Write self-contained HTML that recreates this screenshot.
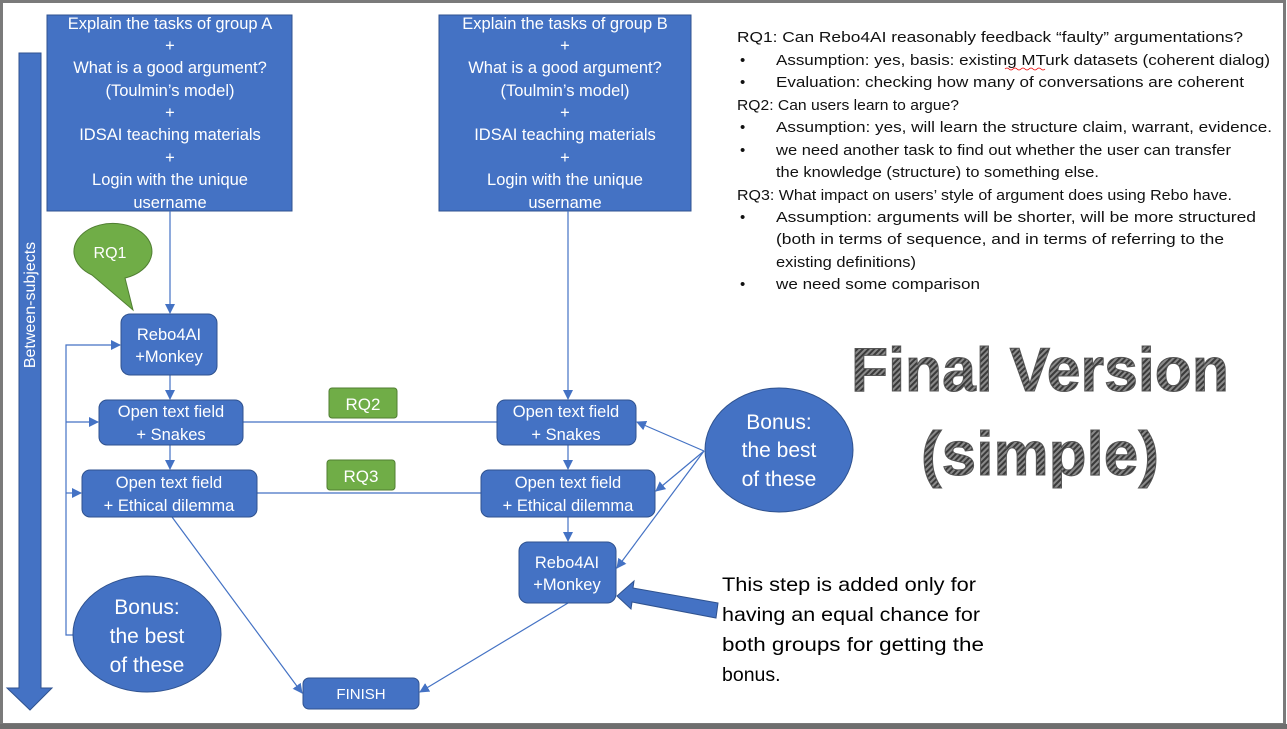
<!DOCTYPE html>
<html><head><meta charset="utf-8"><style>
html,body{margin:0;padding:0;background:#fff;}
svg{display:block;}
text{font-family:"Liberation Sans",sans-serif;}
</style></head><body>
<svg width="1287" height="729" viewBox="0 0 1287 729" xmlns="http://www.w3.org/2000/svg">
<defs>
<marker id="a" markerWidth="10" markerHeight="10" refX="9" refY="5" orient="auto" markerUnits="userSpaceOnUse"><path d="M0,0 L10,5 L0,10 z" fill="#4472c4"/></marker>
<pattern id="hatch" width="4" height="4" patternUnits="userSpaceOnUse" patternTransform="rotate(45)"><rect width="4" height="4" fill="#8a8a8a"/><rect width="2" height="4" fill="#3a3a3a"/></pattern>
</defs>
<rect x="0" y="0" width="1287" height="729" fill="#fff"/>
<rect x="1.5" y="1.5" width="1283" height="723" fill="none" stroke="#7a7a7a" stroke-width="3"/>
<rect x="0" y="724" width="1287" height="5" fill="#6e6e6e"/>

<path d="M19,53 H41 V688 H52 L30,710 L7,688 H19 Z" fill="#4472c4" stroke="#2f528f" stroke-width="1"/>
<text x="0" y="0" transform="translate(35,305) rotate(-90)" text-anchor="middle" fill="#fff" font-size="16">Between-subjects</text>

<g fill="#fff" font-size="16.5" text-anchor="middle">
<rect x="47" y="15" width="245" height="196" fill="#4472c4" stroke="#2f528f"/>
<text x="170" y="29">Explain the tasks of group A</text>
<text x="170" y="51">+</text>
<text x="170" y="73">What is a good argument?</text>
<text x="170" y="96">(Toulmin’s model)</text>
<text x="170" y="118">+</text>
<text x="170" y="140">IDSAI teaching materials</text>
<text x="170" y="163">+</text>
<text x="170" y="185">Login with the unique</text>
<text x="170" y="208">username</text>

<rect x="439" y="15" width="252" height="196" fill="#4472c4" stroke="#2f528f"/>
<text x="565" y="29">Explain the tasks of group B</text>
<text x="565" y="51">+</text>
<text x="565" y="73">What is a good argument?</text>
<text x="565" y="96">(Toulmin’s model)</text>
<text x="565" y="118">+</text>
<text x="565" y="140">IDSAI teaching materials</text>
<text x="565" y="163">+</text>
<text x="565" y="185">Login with the unique</text>
<text x="565" y="208">username</text>
</g>

<g stroke="#4472c4" stroke-width="1.2" fill="none">
<line x1="170" y1="211" x2="170" y2="313" marker-end="url(#a)"/>
<line x1="568" y1="211" x2="568" y2="399" marker-end="url(#a)"/>
<line x1="170" y1="375" x2="170" y2="399" marker-end="url(#a)"/>
<line x1="170" y1="445" x2="170" y2="469" marker-end="url(#a)"/>
<line x1="568" y1="445" x2="568" y2="469" marker-end="url(#a)"/>
<line x1="568" y1="517" x2="568" y2="541" marker-end="url(#a)"/>
<line x1="243" y1="422" x2="497" y2="422"/>
<line x1="257" y1="493" x2="481" y2="493"/>
<polyline points="73,635 66,635 66,345 120,345" marker-end="url(#a)"/>
<line x1="66" y1="422" x2="98" y2="422" marker-end="url(#a)"/>
<line x1="66" y1="493" x2="81" y2="493" marker-end="url(#a)"/>
<line x1="704" y1="451" x2="637" y2="422" marker-end="url(#a)"/>
<line x1="704" y1="451" x2="656" y2="491" marker-end="url(#a)"/>
<line x1="704" y1="451" x2="617" y2="568" marker-end="url(#a)"/>
<line x1="172" y1="517" x2="302" y2="693" marker-end="url(#a)"/>
<line x1="568" y1="603" x2="420" y2="692" marker-end="url(#a)"/>
</g>

<path d="M92,275 A39,28 0 1 1 125,278 L133,310 Z" fill="#70ad47" stroke="#507e32"/>
<text x="110" y="258" fill="#fff" font-size="16" text-anchor="middle">RQ1</text>

<g fill="#4472c4" stroke="#2f528f">
<rect x="121" y="314" width="96" height="61" rx="9"/>
<rect x="99" y="400" width="144" height="45" rx="8"/>
<rect x="82" y="470" width="175" height="47" rx="8"/>
<rect x="497" y="400" width="139" height="45" rx="8"/>
<rect x="481" y="470" width="174" height="47" rx="8"/>
<rect x="519" y="542" width="97" height="61" rx="9"/>
<rect x="303" y="678" width="116" height="31" rx="6"/>
<ellipse cx="147" cy="634" rx="74" ry="58"/>
<ellipse cx="779" cy="450" rx="74" ry="62"/>
<path d="M718,603 L633,588 L634,581 L617,596 L631,609 L632,602 L716,618 Z"/>
</g>
<rect x="329" y="388" width="68" height="30" rx="3" fill="#70ad47" stroke="#507e32"/>
<rect x="327" y="460" width="68" height="30" rx="3" fill="#70ad47" stroke="#507e32"/>
<g fill="#fff" font-size="16.5" text-anchor="middle">
<text x="363" y="410" font-size="17">RQ2</text>
<text x="361" y="482" font-size="17">RQ3</text>
<text x="169" y="340">Rebo4AI</text>
<text x="169" y="362">+Monkey</text>
<text x="171" y="417">Open text field</text>
<text x="171" y="440">+ Snakes</text>
<text x="169" y="488">Open text field</text>
<text x="169" y="511">+ Ethical dilemma</text>
<text x="566" y="417">Open text field</text>
<text x="566" y="440">+ Snakes</text>
<text x="568" y="488">Open text field</text>
<text x="568" y="511">+ Ethical dilemma</text>
<text x="567" y="568">Rebo4AI</text>
<text x="567" y="590">+Monkey</text>
<text x="361" y="699" font-size="15">FINISH</text>
<text x="147" y="614" font-size="21">Bonus:</text>
<text x="147" y="643" font-size="21">the best</text>
<text x="147" y="672" font-size="21">of these</text>
<text x="779" y="429" font-size="21">Bonus:</text>
<text x="779" y="457" font-size="21">the best</text>
<text x="779" y="486" font-size="21">of these</text>
</g>

<g fill="#111" font-size="15">
<text x="737" y="42" textLength="506" lengthAdjust="spacingAndGlyphs">RQ1: Can Rebo4AI reasonably feedback “faulty” argumentations?</text>
<text x="740" y="65">•</text><text x="776" y="65" textLength="494" lengthAdjust="spacingAndGlyphs">Assumption: yes, basis: existing MTurk datasets (coherent dialog)</text>
<text x="740" y="87">•</text><text x="776" y="87" textLength="468" lengthAdjust="spacingAndGlyphs">Evaluation: checking how many of conversations are coherent</text>
<text x="737" y="110" textLength="222" lengthAdjust="spacingAndGlyphs">RQ2: Can users learn to argue?</text>
<text x="740" y="132">•</text><text x="776" y="132" textLength="496" lengthAdjust="spacingAndGlyphs">Assumption: yes, will learn the structure claim, warrant, evidence.</text>
<text x="740" y="155">•</text><text x="776" y="155" textLength="455" lengthAdjust="spacingAndGlyphs">we need another task to find out whether the user can transfer</text>
<text x="776" y="177" textLength="323" lengthAdjust="spacingAndGlyphs">the knowledge (structure) to something else.</text>
<text x="737" y="200" textLength="495" lengthAdjust="spacingAndGlyphs">RQ3: What impact on users’ style of argument does using Rebo have.</text>
<text x="740" y="222">•</text><text x="776" y="222" textLength="480" lengthAdjust="spacingAndGlyphs">Assumption: arguments will be shorter, will be more structured</text>
<text x="776" y="244" textLength="448" lengthAdjust="spacingAndGlyphs">(both in terms of sequence, and in terms of referring to the</text>
<text x="776" y="267" textLength="140" lengthAdjust="spacingAndGlyphs">existing definitions)</text>
<text x="740" y="289">•</text><text x="776" y="289" textLength="204" lengthAdjust="spacingAndGlyphs">we need some comparison</text>
</g>
<path d="M1005,69 q2,-2 4,0 t4,0 t4,0 t4,0 t4,0 t4,0 t4,0 t4,0 t4,0 t4,0" stroke="#e00" stroke-width="0.8" fill="none"/>

<g font-size="62" font-weight="bold" text-anchor="middle" fill="url(#hatch)" stroke="#555" stroke-width="1">
<text x="1040" y="391" textLength="378" lengthAdjust="spacingAndGlyphs">Final Version</text>
<text x="1040" y="475" textLength="238" lengthAdjust="spacingAndGlyphs">(simple)</text>
</g>

<g fill="#000" font-size="19.5">
<text x="722" y="591" textLength="254" lengthAdjust="spacingAndGlyphs">This step is added only for</text>
<text x="722" y="621" textLength="258" lengthAdjust="spacingAndGlyphs">having an equal chance for</text>
<text x="722" y="651" textLength="262" lengthAdjust="spacingAndGlyphs">both groups for getting the</text>
<text x="722" y="681">bonus.</text>
</g>
</svg>
</body></html>
